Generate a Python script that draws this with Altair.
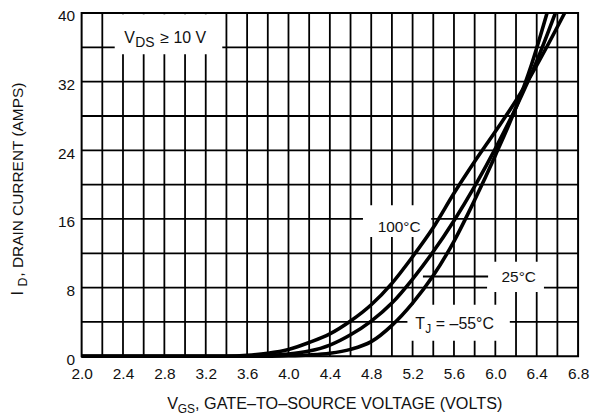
import altair as alt
import pandas as pd

# ---- curve data (V_GS in volts, I_D in amps) ----
v_100 = [2.0, 3.4, 3.6, 3.8, 4.0, 4.2, 4.4, 4.6, 4.8, 5.0, 5.2, 5.4, 5.6, 5.8, 6.0, 6.2, 6.4, 6.67]
i_100 = [0, 0, 0.1, 0.35, 0.8, 1.6, 2.6, 4.1, 6.0, 8.5, 11.6, 15.0, 19.0, 22.7, 26.2, 29.8, 33.9, 40]
v_25 = [2.0, 3.6, 3.8, 4.0, 4.2, 4.4, 4.6, 4.8, 5.0, 5.2, 5.4, 5.6, 5.8, 6.0, 6.2, 6.4, 6.58]
i_25 = [0, 0, 0.08, 0.25, 0.6, 1.3, 2.5, 4.1, 6.2, 9.0, 12.2, 15.8, 19.8, 24.2, 29.0, 34.4, 40]
v_m55 = [2.0, 3.8, 4.0, 4.2, 4.4, 4.6, 4.8, 5.0, 5.2, 5.4, 5.6, 5.8, 6.0, 6.2, 6.35, 6.5]
i_m55 = [0, 0, 0.05, 0.15, 0.35, 0.8, 1.7, 3.6, 6.2, 9.4, 13.4, 18.2, 23.4, 29.0, 34.0, 40]

# ---- axis ticks / grid ----
x_ticks = [2.0, 2.4, 2.8, 3.2, 3.6, 4.0, 4.4, 4.8, 5.2, 5.6, 6.0, 6.4, 6.8]
y_ticks = [0, 8, 16, 24, 32, 40]
grid_x = [2.2, 2.4, 2.6, 2.8, 3.0, 3.2, 3.4, 3.6, 3.8, 4.0, 4.2, 4.4, 4.6, 4.8,
          5.0, 5.2, 5.4, 5.6, 5.8, 6.0, 6.2, 6.4, 6.6]
grid_y = [4, 8, 12, 16, 20, 24, 28, 32, 36]

# ---- label boxes (white knock-outs behind annotations) ----
box_v1 = [2.32, 4.72, 5.92, 5.15]
box_v2 = [3.36, 5.38, 6.47, 6.14]
box_i1 = [35.2, 13.9, 7.5, 1.8]
box_i2 = [39.85, 17.6, 11.0, 6.0]

# ---- annotations ----
ann_left_text = ["V", "DS", "\u2265 10 V", "T", "J", "=  \u201355\u00b0C"]
ann_left_v = [2.413, 2.519, 2.76, 5.225, 5.322, 5.425]
ann_left_i = [36.5, 36.0, 36.5, 3.13, 2.67, 3.13]
ann_left_size = [16, 14, 16, 16, 12, 16]

ann_center_text = ["100\u00b0C", "25\u00b0C"]
ann_center_v = [5.07, 6.226]
ann_center_i = [14.5, 8.7]
ann_center_size = [15.5, 15.5]

leader_v = [5.3]
leader_v2 = [5.93]
leader_i = [9.3]

FONT = "Liberation Sans, Arial, Helvetica, sans-serif"
INK = "#111111"

curves = pd.concat([
    pd.DataFrame({"v": v_100, "i": i_100, "series": "100C"}),
    pd.DataFrame({"v": v_25, "i": i_25, "series": "25C"}),
    pd.DataFrame({"v": v_m55, "i": i_m55, "series": "-55C"}),
])

xs = alt.Scale(domain=[2.0, 6.8], nice=False, zero=False)
ys = alt.Scale(domain=[0, 40], nice=False, zero=False)

xa = alt.Axis(values=x_ticks, format=".1f", title=None, grid=False, ticks=False,
              domain=False, labelPadding=22, labelBaseline="alphabetic",
              labelFontSize=15.5, labelFont=FONT, labelColor=INK,
              labelOverlap=False, labelFlush=False)
ya = alt.Axis(values=y_ticks, format="d", title=None, grid=False, ticks=False,
              domain=False, labelPadding=7, labelOffset=8, labelBaseline="alphabetic",
              labelFontSize=15.5, labelFont=FONT, labelColor=INK,
              labelOverlap=False, labelFlush=False)

vgrid = alt.Chart(pd.DataFrame({"gx": grid_x})).mark_rule(
    color="black", strokeWidth=1.8).encode(
    x=alt.X("gx:Q", scale=xs, axis=xa))
hgrid = alt.Chart(pd.DataFrame({"gy": grid_y})).mark_rule(
    color="black", strokeWidth=1.8).encode(
    y=alt.Y("gy:Q", scale=ys, axis=ya))

boxes = alt.Chart(pd.DataFrame({"v1": box_v1, "v2": box_v2,
                                "i1": box_i1, "i2": box_i2})).mark_rect(
    fill="white").encode(
    x=alt.X("v1:Q", scale=xs, axis=xa), x2="v2:Q",
    y=alt.Y("i1:Q", scale=ys, axis=ya), y2="i2:Q")

leader = alt.Chart(pd.DataFrame({"v": leader_v, "v2": leader_v2, "i": leader_i})).mark_rule(
    color="black", strokeWidth=2).encode(
    x=alt.X("v:Q", scale=xs, axis=xa), x2="v2:Q",
    y=alt.Y("i:Q", scale=ys, axis=ya))

lines = alt.Chart(curves).mark_line(
    color="black", strokeWidth=3.6, interpolate="monotone").encode(
    x=alt.X("v:Q", scale=xs, axis=xa),
    y=alt.Y("i:Q", scale=ys, axis=ya),
    detail="series:N")

ann_left = alt.Chart(pd.DataFrame({"t": ann_left_text, "v": ann_left_v,
                                   "i": ann_left_i, "s": ann_left_size})).mark_text(
    align="left", baseline="alphabetic", font=FONT, color=INK).encode(
    x=alt.X("v:Q", scale=xs, axis=xa),
    y=alt.Y("i:Q", scale=ys, axis=ya),
    text="t:N", size=alt.Size("s:Q", scale=None))

ann_center = alt.Chart(pd.DataFrame({"t": ann_center_text, "v": ann_center_v,
                                     "i": ann_center_i, "s": ann_center_size})).mark_text(
    align="center", baseline="alphabetic", font=FONT, color=INK).encode(
    x=alt.X("v:Q", scale=xs, axis=xa),
    y=alt.Y("i:Q", scale=ys, axis=ya),
    text="t:N", size=alt.Size("s:Q", scale=None))

# ---- axis titles with subscripts ----
def piece(txt, px, py, size, angle=0):
    m = alt.Chart(pd.DataFrame({"t": [txt]})).mark_text(
        align="left", baseline="alphabetic", font=FONT, color=INK,
        fontSize=size, angle=angle)
    return m.encode(text="t:N", x=alt.value(px), y=alt.value(py))

xt1 = piece("V", 86, 398, 16.3)
xt2 = piece("GS", 96.5, 402, 12)
xt3 = piece(", GATE\u2013TO\u2013SOURCE VOLTAGE (VOLTS)", 114, 398, 16.3)

yt1 = piece("I", -59, 284, 16, 270)
yt2 = piece("D", -55, 275, 12.5, 270)
yt3 = piece(", DRAIN CURRENT (AMPS)", -59, 265, 15.5, 270)

chart = alt.layer(vgrid, hgrid, boxes, leader, lines, ann_left, ann_center,
                  xt1, xt2, xt3, yt1, yt2, yt3).properties(
    width=499, height=345,
    autosize=alt.AutoSizeParams(type="none"),
    padding={"left": 74, "top": 4, "right": 16, "bottom": 58},
).configure_view(stroke="black", strokeWidth=2)

chart.save("out.html", embed_options={"renderer": "svg", "actions": False})
